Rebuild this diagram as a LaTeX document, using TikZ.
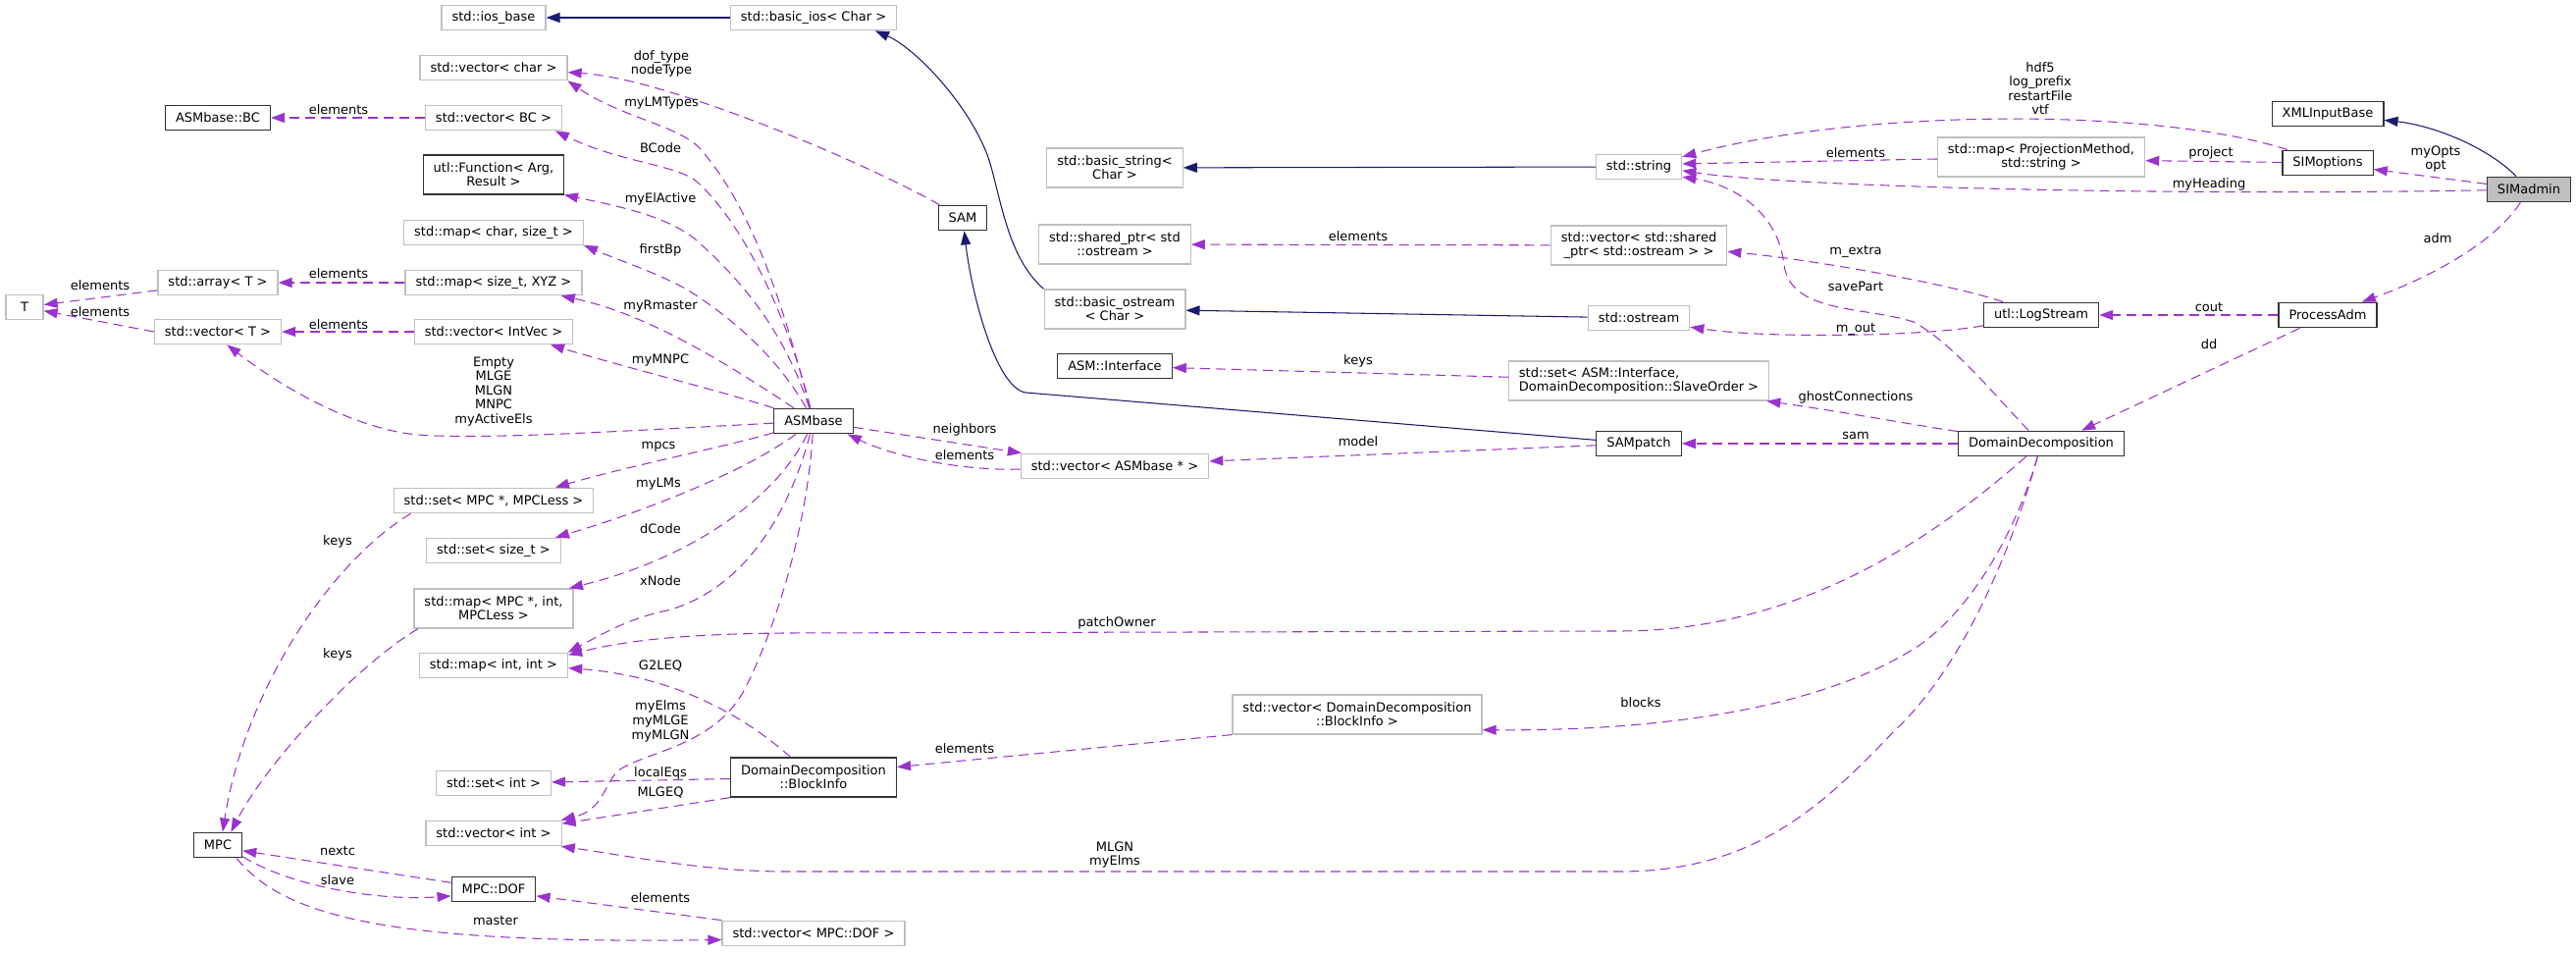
\documentclass[tikz,border=0pt]{standalone}
\usepackage{fontspec}
\setmainfont{DejaVu Sans}
\usetikzlibrary{arrows.meta}
\definecolor{orchid}{HTML}{9A32CD}
\definecolor{navy}{HTML}{191970}
\definecolor{grey75}{HTML}{BFBFBF}
\tikzset{
  classbox/.style={draw=black!80, line width=0.35pt, fill=white, inner xsep=0.105cm, inner ysep=0.02cm,
    minimum height=0.255cm, minimum width=0.38cm, align=center, font=\fontsize{3.7pt}{3.95pt}\selectfont},
  extbox/.style={classbox, draw=grey75},
  mainbox/.style={classbox, fill=grey75},
  twoline/.style={minimum height=0.40cm},
  usesedge/.style={orchid, line width=0.3pt, dash pattern=on 0.10cm off 0.06cm, -{Triangle[length=0.14cm,width=0.10cm]}},
  inheritedge/.style={navy, line width=0.3pt, -{Triangle[length=0.14cm,width=0.10cm]}},
  edgelabel/.style={inner sep=0pt, align=center, font=\fontsize{3.7pt}{4.15pt}\selectfont}
}
\begin{document}
\begin{tikzpicture}[x=0.01cm,y=-0.01cm]
\useasboundingbox (0,0) rectangle (2625,971);
\node[extbox] (T) at (25,313) {T};
\node[classbox] (bc) at (222,120) {ASMbase::BC};
\node[extbox] (arrayT) at (222,288) {std::array< T >};
\node[extbox] (vecT) at (222,338) {std::vector< T >};
\node[classbox] (mpc) at (222,861) {MPC};
\node[extbox] (iosbase) at (503,18) {std::ios\_base};
\node[extbox] (vecchar) at (503,69) {std::vector< char >};
\node[extbox] (vecbc) at (503,120) {std::vector< BC >};
\node[classbox,twoline] (utlfunc) at (503,178) {utl::Function< Arg,\\ Result >};
\node[extbox] (mapcs) at (503,237) {std::map< char, size\_t >};
\node[extbox] (mapsx) at (503,288) {std::map< size\_t, XYZ >};
\node[extbox] (vecintvec) at (503,338) {std::vector< IntVec >};
\node[extbox] (setmpc) at (503,510) {std::set< MPC *, MPCLess >};
\node[extbox] (setsizet) at (503,561) {std::set< size\_t >};
\node[extbox,twoline] (mapmpc) at (503,620) {std::map< MPC *, int,\\ MPCLess >};
\node[extbox] (mapii) at (503,678) {std::map< int, int >};
\node[extbox] (setint) at (503,798) {std::set< int >};
\node[extbox] (vecint) at (503,849) {std::vector< int >};
\node[classbox] (mpcdof) at (503,906) {MPC::DOF};
\node[extbox] (basicios) at (829,18) {std::basic\_ios< Char >};
\node[classbox] (asmbase) at (829,429) {ASMbase};
\node[classbox,twoline] (blockinfo) at (829,792) {DomainDecomposition\\ ::BlockInfo};
\node[extbox] (vecdof) at (829,951) {std::vector< MPC::DOF >};
\node[classbox] (sam) at (981,222) {SAM};
\node[extbox,twoline] (basicstring) at (1136,171) {std::basic\_string<\\ Char >};
\node[extbox,twoline] (sharedptr) at (1136,249) {std::shared\_ptr< std\\ ::ostream >};
\node[extbox,twoline] (basicostream) at (1136,315) {std::basic\_ostream\\ < Char >};
\node[classbox] (asminterface) at (1136,373) {ASM::Interface};
\node[extbox] (vecasm) at (1136,475) {std::vector< ASMbase * >};
\node[extbox,twoline] (vecblock) at (1383,728) {std::vector< DomainDecomposition\\ ::BlockInfo >};
\node[extbox] (string) at (1670,170) {std::string};
\node[extbox,twoline] (vecshared) at (1670,250) {std::vector< std::shared\\ \_ptr< std::ostream > >};
\node[extbox] (ostream) at (1670,324) {std::ostream};
\node[extbox,twoline,align=left] (setinterface) at (1670,388) {std::set< ASM::Interface,\\ DomainDecomposition::SlaveOrder >};
\node[classbox] (sampatch) at (1670,452) {SAMpatch};
\node[extbox,twoline] (mappm) at (2080,160) {std::map< ProjectionMethod,\\ std::string >};
\node[classbox] (logstream) at (2080,321) {utl::LogStream};
\node[classbox] (dd) at (2080,452) {DomainDecomposition};
\node[classbox] (xmlinput) at (2372,116) {XMLInputBase};
\node[classbox] (simoptions) at (2372,166) {SIMoptions};
\node[classbox] (processadm) at (2372,321) {ProcessAdm};
\node[mainbox] (simadmin) at (2577,193) {SIMadmin};
\draw[inheritedge] (basicios) -- (iosbase);
\draw[inheritedge] (basicostream.north west) .. controls (1030,265) and (1022,215) .. (1010,170) .. controls (995,115) and (935,50) .. (basicios.-12);
\draw[inheritedge] (ostream) -- (basicostream);
\draw[inheritedge] (string) -- (basicstring);
\draw[inheritedge] (simadmin) .. controls (2535,150) and (2480,128) .. (xmlinput);
\draw[inheritedge] (sampatch) -- (1045,400) .. controls (1015,395) and (990,300) .. (sam);
\draw[usesedge] (vecbc) -- (bc);
\node[edgelabel] (lbc) at (345,112) {elements};
\draw[usesedge] (mapsx) -- (arrayT);
\node[edgelabel] (lxyz) at (345,279) {elements};
\draw[usesedge] (arrayT) -- (T);
\node[edgelabel] (larr) at (102,291) {elements};
\draw[usesedge] (vecT.west) -- (T);
\node[edgelabel] (lvt) at (102,318) {elements};
\draw[usesedge] (vecintvec) -- (vecT);
\node[edgelabel] (livec) at (345,331) {elements};
\draw[usesedge] (sam) .. controls (880,165) and (680,80) .. (vecchar);
\node[edgelabel] (ldof) at (674,65) {dof\_type\\nodeType};
\draw[usesedge] (asmbase) .. controls (800,320) and (770,215) .. (712,150) .. controls (690,128) and (630,118) .. (vecchar.-10);
\node[edgelabel] (llmt) at (674,105) {myLMTypes};
\draw[usesedge] (asmbase) .. controls (805,330) and (760,230) .. (710,185) .. controls (690,168) and (630,165) .. (vecbc.-12);
\node[edgelabel] (lbcode) at (673,151) {BCode};
\draw[usesedge] (asmbase) .. controls (800,340) and (760,290) .. (710,245) .. controls (680,220) and (630,210) .. (utlfunc.-16);
\node[edgelabel] (lact) at (673,203) {myElActive};
\draw[usesedge] (asmbase) .. controls (790,360) and (740,320) .. (700,295) .. controls (670,278) and (630,265) .. (mapcs.-8);
\node[edgelabel] (lfbp) at (673,255) {firstBp};
\draw[usesedge] (asmbase) .. controls (740,370) and (660,320) .. (mapsx.-11);
\node[edgelabel] (lrm) at (673,312) {myRmaster};
\draw[usesedge] (asmbase) .. controls (740,400) and (640,375) .. (vecintvec.-13);
\node[edgelabel] (lmnpc) at (673,367) {myMNPC};
\draw[usesedge] (asmbase) .. controls (620,440) and (460,450) .. (410,441) .. controls (340,428) and (275,385) .. (vecT.-55);
\node[edgelabel] (lempty) at (503,399) {Empty\\MLGE\\MLGN\\MNPC\\myActiveEls};
\draw[usesedge] (asmbase) .. controls (740,455) and (640,475) .. (setmpc.12);
\node[edgelabel] (lmpcs) at (671,455) {mpcs};
\draw[usesedge] (asmbase) .. controls (760,480) and (660,520) .. (setsizet.12);
\node[edgelabel] (llms) at (671,493) {myLMs};
\draw[usesedge] (asmbase) .. controls (790,510) and (700,570) .. (mapmpc.15);
\node[edgelabel] (ldcode) at (673,539) {dCode};
\draw[usesedge] (asmbase) .. controls (805,520) and (760,600) .. (680,622) .. controls (640,630) and (610,648) .. (mapii.10);
\node[edgelabel] (lxnode) at (673,592) {xNode};
\draw[usesedge] (dd) .. controls (1990,530) and (1850,643) .. (1650,643) -- (800,645) .. controls (700,646) and (640,652) .. (mapii.8);
\node[edgelabel] (lowner) at (1138,635) {patchOwner};
\draw[usesedge] (blockinfo) .. controls (770,740) and (700,690) .. (mapii.-2);
\node[edgelabel] (lg2l) at (673,679) {G2LEQ};
\draw[usesedge] (asmbase) .. controls (822,540) and (790,640) .. (760,700) .. controls (730,760) and (660,765) .. (630,785) .. controls (615,800) and (615,825) .. (vecint.11);
\node[edgelabel] (lelms) at (673,735) {myElms\\myMLGE\\myMLGN};
\draw[usesedge] (blockinfo) -- (setint);
\node[edgelabel] (leqs) at (673,788) {localEqs};
\draw[usesedge] (blockinfo.south west) -- (vecint.8);
\node[edgelabel] (lgeq) at (673,808) {MLGEQ};
\draw[usesedge] (dd) .. controls (2050,560) and (2000,680) .. (1930,745) .. controls (1850,830) and (1780,888) .. (1650,888) -- (800,888) .. controls (720,888) and (640,872) .. (vecint.-11);
\node[edgelabel] (lmlgn) at (1136,871) {MLGN\\myElms};
\draw[usesedge] (vecblock.south west) -- (blockinfo.7);
\node[edgelabel] (lbi) at (983,763) {elements};
\draw[usesedge] (dd) .. controls (2055,540) and (2010,620) .. (1955,658) .. controls (1860,720) and (1700,745) .. (vecblock.-7);
\node[edgelabel] (lblocks) at (1672,716) {blocks};
\draw[usesedge] (processadm) -- (dd.18);
\node[edgelabel] (ldd) at (2251,351) {dd};
\draw[usesedge] (simadmin) .. controls (2540,250) and (2470,285) .. (processadm.21);
\node[edgelabel] (ladm) at (2484,243) {adm};
\draw[usesedge] (processadm) -- (logstream);
\node[edgelabel] (lcout) at (2251,313) {cout};
\draw[usesedge] (simadmin) -- (simoptions.-8);
\node[edgelabel] (lopts) at (2482,162) {myOpts\\opt};
\draw[usesedge] (simadmin) .. controls (2200,200) and (1820,190) .. (string.-5);
\node[edgelabel] (lhead) at (2251,188) {myHeading};
\draw[usesedge] (simoptions) .. controls (2200,110) and (1900,110) .. (string.13);
\node[edgelabel] (lfiles) at (2079,90) {hdf5\\log\_prefix\\restartFile\\vtf};
\draw[usesedge] (simoptions) -- (mappm.-2);
\node[edgelabel] (lproj) at (2253,156) {project};
\draw[usesedge] (mappm) -- (string.4);
\node[edgelabel] (lpm) at (1891,156) {elements};
\draw[usesedge] (dd) .. controls (2030,400) and (1990,350) .. (1950,328) .. controls (1900,312) and (1825,320) .. (1818,270) .. controls (1812,215) and (1765,188) .. (string.-13);
\node[edgelabel] (lsave) at (1891,292) {savePart};
\draw[usesedge] (logstream) .. controls (1990,290) and (1850,265) .. (vecshared.-4);
\node[edgelabel] (lextra) at (1891,256) {m\_extra};
\draw[usesedge] (logstream) .. controls (1960,343) and (1800,345) .. (ostream.-10);
\node[edgelabel] (lout) at (1891,335) {m\_out};
\draw[usesedge] (vecshared) -- (sharedptr);
\node[edgelabel] (lsp) at (1384,241) {elements};
\draw[usesedge] (setinterface) -- (asminterface);
\node[edgelabel] (lkeys) at (1384,368) {keys};
\draw[usesedge] (dd) .. controls (1950,433) and (1880,420) .. (setinterface.-9);
\node[edgelabel] (lghost) at (1891,405) {ghostConnections};
\draw[usesedge] (dd) -- (sampatch);
\node[edgelabel] (lsam) at (1891,444) {sam};
\draw[usesedge] (sampatch) -- (vecasm.3);
\node[edgelabel] (lmodel) at (1384,450) {model};
\draw[usesedge] (asmbase) -- (vecasm.172);
\node[edgelabel] (lnb) at (983,438) {neighbors};
\draw[usesedge] (vecasm) .. controls (980,480) and (910,465) .. (asmbase.-21);
\node[edgelabel] (lasm) at (983,464) {elements};
\draw[usesedge] (mpc.-25) .. controls (300,905) and (390,918) .. (mpcdof.-171);
\node[edgelabel] (lslave) at (344,897) {slave};
\draw[usesedge] (mpcdof) -- (mpc.-13);
\node[edgelabel] (lnext) at (344,867) {nextc};
\draw[usesedge] (vecdof.north west) -- (mpcdof.-9);
\node[edgelabel] (ldof2) at (673,915) {elements};
\draw[usesedge] (mpc.-35) .. controls (290,935) and (400,962) .. (vecdof.-176);
\node[edgelabel] (lmaster) at (505,938) {master};
\draw[usesedge] (setmpc.-171) .. controls (340,570) and (250,700) .. (mpc.70);
\node[edgelabel] (lkeys1) at (344,552) {keys};
\draw[usesedge] (mapmpc.-165) .. controls (360,680) and (270,780) .. (mpc.45);
\node[edgelabel] (lkeys2) at (344,667) {keys};
\end{tikzpicture}
\end{document}
